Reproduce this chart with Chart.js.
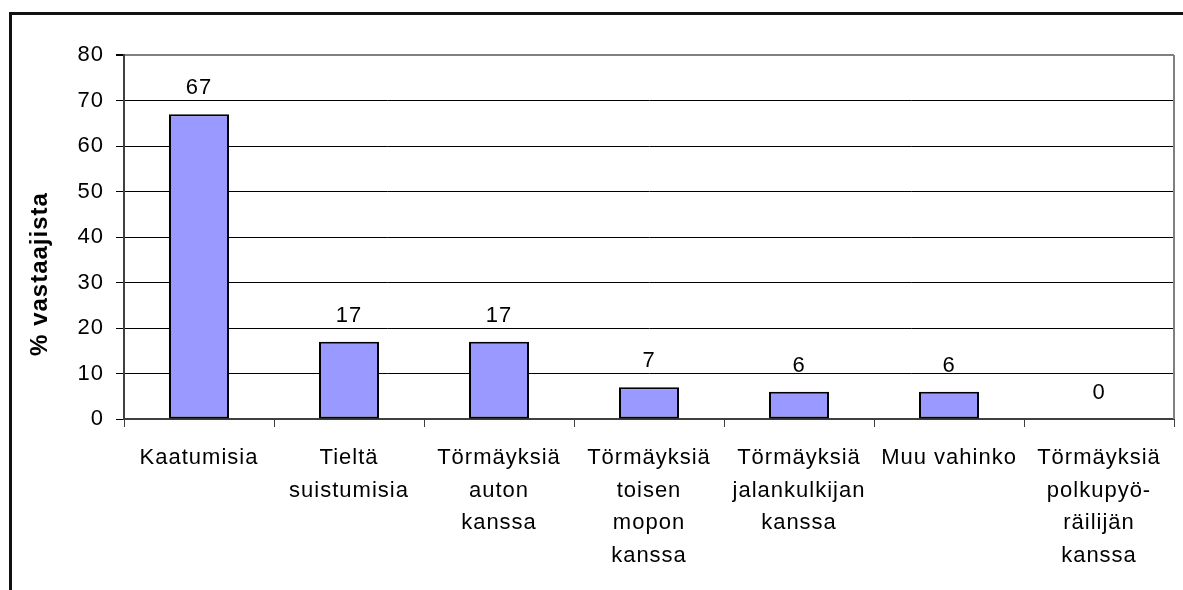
<!DOCTYPE html>
<html>
<head>
<meta charset="utf-8">
<script src="https://cdn.jsdelivr.net/npm/chart.js@4.4.0/dist/chart.umd.min.js"></script>
<style>
  html, body { margin: 0; padding: 0; background: #fff; }
  #wrap { width: 1183px; height: 590px; position: relative; }
</style>
</head>
<body>
<div id="wrap"><canvas id="c" width="1183" height="590"></canvas></div>
<script>
const categories = [
  "Kaatumisia",
  ["Tieltä", "suistumisia"],
  ["Törmäyksiä", "auton", "kanssa"],
  ["Törmäyksiä", "toisen", "mopon", "kanssa"],
  ["Törmäyksiä", "jalankulkijan", "kanssa"],
  "Muu vahinko",
  ["Törmäyksiä", "polkupyö-", "räilijän", "kanssa"]
];
const values = [67, 17, 17, 7, 6, 6, 0];
const yTitle = "% vastaajista";
const yMin = 0, yMax = 80, yStep = 10;

const FONT = "'Liberation Sans', Arial, sans-serif";

const spacingPlugin = {
  id: 'spacing',
  beforeUpdate(chart) { chart.ctx.letterSpacing = '1px'; },
  beforeLayout(chart) { chart.ctx.letterSpacing = '1px'; },
  beforeDraw(chart) { chart.ctx.letterSpacing = '1px'; }
};

const decoPlugin = {
  id: 'deco',
  afterDraw(chart) {
    const ctx = chart.ctx;
    const a = chart.chartArea;
    ctx.save();
    // plot area right border (gray)
    ctx.strokeStyle = '#808080';
    ctx.lineWidth = 2;
    ctx.beginPath();
    ctx.moveTo(a.right, a.top);
    ctx.lineTo(a.right, a.bottom);
    ctx.stroke();
    // outer frame (top & left)
    ctx.fillStyle = '#111';
    ctx.fillRect(9, 12, 1183 - 9, 3);
    ctx.fillRect(9, 12, 3, 590 - 12);
    // data labels
    ctx.letterSpacing = '1px';
    ctx.fillStyle = '#000';
    ctx.font = "22px " + FONT;
    ctx.textAlign = 'center';
    ctx.textBaseline = 'middle';
    const meta = chart.getDatasetMeta(0);
    meta.data.forEach((bar, i) => {
      ctx.fillText(String(values[i]), bar.x, bar.y - 26);
    });
    // y title
    ctx.font = "bold 24px " + FONT;
    ctx.translate(40, 274);
    ctx.rotate(-Math.PI / 2);
    ctx.fillText(yTitle, 0, 0);
    ctx.restore();
  }
};

new Chart(document.getElementById('c'), {
  type: 'bar',
  data: {
    labels: categories,
    datasets: [{
      data: values,
      backgroundColor: '#9999FF',
      borderColor: '#000',
      borderWidth: 2,
      borderSkipped: false,
      categoryPercentage: 1.0,
      barPercentage: 0.4
    }]
  },
  options: {
    responsive: false,
    animation: false,
    devicePixelRatio: 1,
    layout: { padding: { top: 55, right: 9, left: 0, bottom: 0 } },
    plugins: {
      legend: { display: false },
      tooltip: { enabled: false },
      title: { display: false }
    },
    scales: {
      x: {
        offset: true,
        grid: {
          offset: true,
          drawOnChartArea: false,
          drawTicks: true,
          tickLength: 8,
          tickColor: '#404040',
          lineWidth: 1
        },
        border: { color: '#404040', width: 2 },
        ticks: {
          color: '#000',
          font: { family: FONT, size: 22, lineHeight: 1.48 },
          padding: 15,
          maxRotation: 0,
          autoSkip: false
        },
        afterFit(scale) { scale.height = 590 - 419; }
      },
      y: {
        min: yMin,
        max: yMax,
        grid: {
          color: (c) => (c.tick && c.tick.value === yMax) ? '#808080' : '#000',
          lineWidth: (c) => (c.tick && c.tick.value === yMax) ? 2 : 1,
          tickLength: 8,
          tickColor: '#000'
        },
        border: { color: '#404040', width: 2 },
        ticks: {
          stepSize: yStep,
          color: '#000',
          font: { family: FONT, size: 22 },
          padding: 12
        },
        afterFit(scale) { scale.width = 124; }
      }
    }
  },
  plugins: [spacingPlugin, decoPlugin]
});
</script>
</body>
</html>
